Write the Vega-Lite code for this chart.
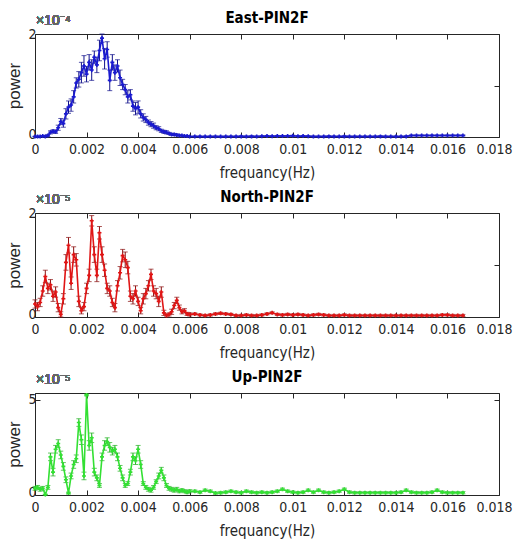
{
"$schema": "https://vega.github.io/schema/vega-lite/v6.json",
"background": "white",
"padding": {"left": 5, "top": 10, "right": 0, "bottom": 0},
"spacing": 8,
"datasets": {
"east": [
{"f":0,"v":0.01,"e":0.005},{"f":0.0001,"v":0.01,"e":0.005},{"f":0.0002,"v":0.01,"e":0.005},{"f":0.0003,"v":0.02,"e":0.01},{"f":0.0004,"v":0.01,"e":0.005},{"f":0.0005,"v":0.03,"e":0.02},{"f":0.0006,"v":0.09,"e":0.03},{"f":0.0007,"v":0.11,"e":0.03},{"f":0.0008,"v":0.10,"e":0.03},{"f":0.0009,"v":0.18,"e":0.05},{"f":0.001,"v":0.30,"e":0.06},{"f":0.0011,"v":0.26,"e":0.07},{"f":0.0012,"v":0.45,"e":0.1},{"f":0.0013,"v":0.58,"e":0.12},{"f":0.0014,"v":0.62,"e":0.12},{"f":0.0015,"v":0.78,"e":0.12},{"f":0.0016,"v":1.05,"e":0.1},{"f":0.0017,"v":1.12,"e":0.15},{"f":0.0018,"v":1.25,"e":0.2},{"f":0.0019,"v":1.38,"e":0.2},{"f":0.002,"v":1.22,"e":0.15},{"f":0.0021,"v":1.45,"e":0.15},{"f":0.0022,"v":1.30,"e":0.2},{"f":0.0023,"v":1.55,"e":0.12},{"f":0.0024,"v":1.40,"e":0.15},{"f":0.0025,"v":1.68,"e":0.2},{"f":0.0026,"v":1.92,"e":0.08},{"f":0.0027,"v":1.52,"e":0.2},{"f":0.0028,"v":1.70,"e":0.15},{"f":0.0029,"v":1.10,"e":0.2},{"f":0.003,"v":1.45,"e":0.15},{"f":0.0031,"v":1.25,"e":0.15},{"f":0.0032,"v":1.38,"e":0.12},{"f":0.0033,"v":1.15,"e":0.15},{"f":0.0034,"v":1.02,"e":0.1},{"f":0.0035,"v":0.92,"e":0.1},{"f":0.0036,"v":0.78,"e":0.12},{"f":0.0037,"v":0.82,"e":0.1},{"f":0.0038,"v":0.60,"e":0.1},{"f":0.0039,"v":0.55,"e":0.12},{"f":0.004,"v":0.58,"e":0.12},{"f":0.0041,"v":0.45,"e":0.08},{"f":0.0042,"v":0.38,"e":0.07},{"f":0.0043,"v":0.34,"e":0.06},{"f":0.0044,"v":0.28,"e":0.05},{"f":0.0045,"v":0.25,"e":0.05},{"f":0.0046,"v":0.22,"e":0.05},{"f":0.0047,"v":0.18,"e":0.04},{"f":0.0048,"v":0.16,"e":0.04},{"f":0.0049,"v":0.12,"e":0.03},{"f":0.005,"v":0.10,"e":0.03},{"f":0.0051,"v":0.09,"e":0.03},{"f":0.0052,"v":0.07,"e":0.02},{"f":0.0053,"v":0.05,"e":0.02},{"f":0.0054,"v":0.05,"e":0.02},{"f":0.0055,"v":0.04,"e":0.02},{"f":0.0056,"v":0.03,"e":0.01},{"f":0.0057,"v":0.03,"e":0.01},{"f":0.0058,"v":0.02,"e":0.01},{"f":0.0059,"v":0.02,"e":0.01},{"f":0.006,"v":0.01,"e":0.005},
{"f":0.0062,"v":0.01,"e":0.01},{"f":0.0064,"v":0.01,"e":0.01},{"f":0.0066,"v":0.008,"e":0.01},{"f":0.0068,"v":0.01,"e":0.01},{"f":0.007,"v":0.01,"e":0.01},{"f":0.0072,"v":0.008,"e":0.01},{"f":0.0074,"v":0.01,"e":0.01},{"f":0.0076,"v":0.01,"e":0.01},{"f":0.0078,"v":0.01,"e":0.01},{"f":0.008,"v":0.012,"e":0.01},{"f":0.0082,"v":0.01,"e":0.01},{"f":0.0084,"v":0.012,"e":0.01},{"f":0.0086,"v":0.01,"e":0.01},{"f":0.0088,"v":0.015,"e":0.01},{"f":0.009,"v":0.02,"e":0.01},{"f":0.0092,"v":0.015,"e":0.01},{"f":0.0094,"v":0.02,"e":0.01},{"f":0.0096,"v":0.018,"e":0.01},{"f":0.0098,"v":0.02,"e":0.01},{"f":0.01,"v":0.025,"e":0.01},{"f":0.0102,"v":0.015,"e":0.01},{"f":0.0104,"v":0.02,"e":0.01},{"f":0.0106,"v":0.015,"e":0.01},{"f":0.0108,"v":0.01,"e":0.01},{"f":0.011,"v":0.01,"e":0.01},{"f":0.0112,"v":0.01,"e":0.01},{"f":0.0114,"v":0.012,"e":0.01},{"f":0.0116,"v":0.01,"e":0.01},{"f":0.0118,"v":0.01,"e":0.01},{"f":0.012,"v":0.012,"e":0.01},{"f":0.0122,"v":0.01,"e":0.01},{"f":0.0124,"v":0.01,"e":0.01},{"f":0.0126,"v":0.01,"e":0.01},{"f":0.0128,"v":0.01,"e":0.01},{"f":0.013,"v":0.01,"e":0.01},{"f":0.0132,"v":0.01,"e":0.01},{"f":0.0134,"v":0.012,"e":0.01},{"f":0.0136,"v":0.01,"e":0.01},{"f":0.0138,"v":0.01,"e":0.01},{"f":0.014,"v":0.01,"e":0.01},{"f":0.0142,"v":0.01,"e":0.01},{"f":0.0144,"v":0.012,"e":0.01},{"f":0.0146,"v":0.03,"e":0.01},{"f":0.0148,"v":0.03,"e":0.01},{"f":0.015,"v":0.03,"e":0.01},{"f":0.0152,"v":0.03,"e":0.01},{"f":0.0154,"v":0.03,"e":0.01},{"f":0.0156,"v":0.03,"e":0.01},{"f":0.0158,"v":0.03,"e":0.01},{"f":0.016,"v":0.03,"e":0.01},{"f":0.0162,"v":0.03,"e":0.01},{"f":0.0164,"v":0.03,"e":0.01},{"f":0.0166,"v":0.03,"e":0.01}
],
"north": [
{"f":0,"v":0.25,"e":0.08},{"f":0.0001,"v":0.20,"e":0.08},{"f":0.0002,"v":0.28,"e":0.08},{"f":0.0003,"v":0.50,"e":0.1},{"f":0.0004,"v":0.78,"e":0.12},{"f":0.0005,"v":0.55,"e":0.1},{"f":0.0006,"v":0.62,"e":0.1},{"f":0.0007,"v":0.40,"e":0.1},{"f":0.0008,"v":0.48,"e":0.1},{"f":0.0009,"v":0.18,"e":0.08},{"f":0.001,"v":0.05,"e":0.05},{"f":0.0011,"v":0.35,"e":0.1},{"f":0.0012,"v":1.05,"e":0.15},{"f":0.0013,"v":1.38,"e":0.15},{"f":0.0014,"v":0.65,"e":0.12},{"f":0.0015,"v":1.20,"e":0.15},{"f":0.0016,"v":1.10,"e":0.12},{"f":0.0017,"v":0.30,"e":0.1},{"f":0.0018,"v":0.12,"e":0.06},{"f":0.0019,"v":0.20,"e":0.08},{"f":0.002,"v":0.55,"e":0.1},{"f":0.0021,"v":0.80,"e":0.12},{"f":0.0022,"v":1.85,"e":0.1},{"f":0.0023,"v":1.20,"e":0.15},{"f":0.0024,"v":0.80,"e":0.12},{"f":0.0025,"v":1.62,"e":0.12},{"f":0.0026,"v":1.20,"e":0.15},{"f":0.0027,"v":0.90,"e":0.12},{"f":0.0028,"v":0.55,"e":0.1},{"f":0.0029,"v":0.50,"e":0.1},{"f":0.003,"v":0.28,"e":0.08},{"f":0.0031,"v":0.18,"e":0.08},{"f":0.0032,"v":0.60,"e":0.1},{"f":0.0033,"v":0.85,"e":0.12},{"f":0.0034,"v":1.18,"e":0.12},{"f":0.0035,"v":1.10,"e":0.15},{"f":0.0036,"v":0.95,"e":0.12},{"f":0.0037,"v":0.40,"e":0.1},{"f":0.0038,"v":0.35,"e":0.1},{"f":0.0039,"v":0.50,"e":0.1},{"f":0.004,"v":0.30,"e":0.08},{"f":0.0041,"v":0.12,"e":0.06},{"f":0.0042,"v":0.35,"e":0.1},{"f":0.0043,"v":0.45,"e":0.1},{"f":0.0044,"v":0.60,"e":0.1},{"f":0.0045,"v":0.82,"e":0.1},{"f":0.0046,"v":0.50,"e":0.1},{"f":0.0047,"v":0.45,"e":0.1},{"f":0.0048,"v":0.30,"e":0.1},{"f":0.0049,"v":0.48,"e":0.1},{"f":0.005,"v":0.08,"e":0.05},{"f":0.0051,"v":0.03,"e":0.03},{"f":0.0052,"v":0.05,"e":0.03},{"f":0.0053,"v":0.10,"e":0.05},{"f":0.0054,"v":0.22,"e":0.06},{"f":0.0055,"v":0.32,"e":0.06},{"f":0.0056,"v":0.18,"e":0.05},{"f":0.0057,"v":0.10,"e":0.04},{"f":0.0058,"v":0.12,"e":0.04},{"f":0.0059,"v":0.06,"e":0.03},{"f":0.006,"v":0.05,"e":0.03},
{"f":0.0062,"v":0.06,"e":0.02},{"f":0.0064,"v":0.04,"e":0.02},{"f":0.0066,"v":0.03,"e":0.02},{"f":0.0068,"v":0.04,"e":0.02},{"f":0.007,"v":0.06,"e":0.02},{"f":0.0072,"v":0.07,"e":0.02},{"f":0.0074,"v":0.06,"e":0.02},{"f":0.0076,"v":0.05,"e":0.02},{"f":0.0078,"v":0.03,"e":0.02},{"f":0.008,"v":0.03,"e":0.02},{"f":0.0082,"v":0.04,"e":0.02},{"f":0.0084,"v":0.03,"e":0.02},{"f":0.0086,"v":0.03,"e":0.02},{"f":0.0088,"v":0.04,"e":0.02},{"f":0.009,"v":0.06,"e":0.02},{"f":0.0092,"v":0.08,"e":0.02},{"f":0.0094,"v":0.05,"e":0.02},{"f":0.0096,"v":0.04,"e":0.02},{"f":0.0098,"v":0.05,"e":0.02},{"f":0.01,"v":0.04,"e":0.02},{"f":0.0102,"v":0.05,"e":0.02},{"f":0.0104,"v":0.04,"e":0.02},{"f":0.0106,"v":0.03,"e":0.02},{"f":0.0108,"v":0.04,"e":0.02},{"f":0.011,"v":0.05,"e":0.02},{"f":0.0112,"v":0.04,"e":0.02},{"f":0.0114,"v":0.03,"e":0.02},{"f":0.0116,"v":0.03,"e":0.02},{"f":0.0118,"v":0.03,"e":0.02},{"f":0.012,"v":0.04,"e":0.02},{"f":0.0122,"v":0.03,"e":0.02},{"f":0.0124,"v":0.03,"e":0.02},{"f":0.0126,"v":0.03,"e":0.02},{"f":0.0128,"v":0.03,"e":0.02},{"f":0.013,"v":0.03,"e":0.02},{"f":0.0132,"v":0.03,"e":0.02},{"f":0.0134,"v":0.03,"e":0.02},{"f":0.0136,"v":0.03,"e":0.02},{"f":0.0138,"v":0.03,"e":0.02},{"f":0.014,"v":0.03,"e":0.02},{"f":0.0142,"v":0.03,"e":0.02},{"f":0.0144,"v":0.03,"e":0.02},{"f":0.0146,"v":0.03,"e":0.02},{"f":0.0148,"v":0.03,"e":0.02},{"f":0.015,"v":0.03,"e":0.02},{"f":0.0152,"v":0.03,"e":0.02},{"f":0.0154,"v":0.03,"e":0.02},{"f":0.0156,"v":0.03,"e":0.02},{"f":0.0158,"v":0.04,"e":0.02},{"f":0.016,"v":0.04,"e":0.02},{"f":0.0162,"v":0.03,"e":0.02},{"f":0.0164,"v":0.03,"e":0.02},{"f":0.0166,"v":0.03,"e":0.02}
],
"up": [
{"f":0,"v":0.35,"e":0.1},{"f":0.0001,"v":0.40,"e":0.1},{"f":0.0002,"v":0.30,"e":0.1},{"f":0.0003,"v":0.35,"e":0.1},{"f":0.0004,"v":0.02,"e":0.02},{"f":0.0005,"v":0.40,"e":0.1},{"f":0.0006,"v":2.0,"e":0.2},{"f":0.0007,"v":1.2,"e":0.2},{"f":0.0008,"v":2.4,"e":0.2},{"f":0.0009,"v":2.7,"e":0.2},{"f":0.001,"v":2.1,"e":0.2},{"f":0.0011,"v":1.5,"e":0.2},{"f":0.0012,"v":0.8,"e":0.15},{"f":0.0013,"v":0.1,"e":0.05},{"f":0.0014,"v":1.0,"e":0.15},{"f":0.0015,"v":1.6,"e":0.2},{"f":0.0016,"v":1.9,"e":0.2},{"f":0.0017,"v":3.8,"e":0.2},{"f":0.0018,"v":2.9,"e":0.25},{"f":0.0019,"v":1.0,"e":0.2},{"f":0.002,"v":5.25,"e":0.05},{"f":0.0021,"v":2.6,"e":0.25},{"f":0.0022,"v":3.0,"e":0.25},{"f":0.0023,"v":1.2,"e":0.2},{"f":0.0024,"v":0.9,"e":0.15},{"f":0.0025,"v":0.5,"e":0.1},{"f":0.0026,"v":2.0,"e":0.2},{"f":0.0027,"v":2.6,"e":0.25},{"f":0.0028,"v":2.8,"e":0.2},{"f":0.0029,"v":2.5,"e":0.25},{"f":0.003,"v":2.3,"e":0.2},{"f":0.0031,"v":2.4,"e":0.2},{"f":0.0032,"v":2.0,"e":0.2},{"f":0.0033,"v":1.4,"e":0.15},{"f":0.0034,"v":0.9,"e":0.15},{"f":0.0035,"v":0.5,"e":0.1},{"f":0.0036,"v":0.6,"e":0.1},{"f":0.0037,"v":1.2,"e":0.15},{"f":0.0038,"v":2.0,"e":0.2},{"f":0.0039,"v":1.8,"e":0.2},{"f":0.004,"v":2.4,"e":0.2},{"f":0.0041,"v":1.6,"e":0.2},{"f":0.0042,"v":0.6,"e":0.1},{"f":0.0043,"v":0.4,"e":0.1},{"f":0.0044,"v":0.3,"e":0.1},{"f":0.0045,"v":0.25,"e":0.1},{"f":0.0046,"v":0.4,"e":0.1},{"f":0.0047,"v":0.7,"e":0.1},{"f":0.0048,"v":1.0,"e":0.15},{"f":0.0049,"v":1.3,"e":0.15},{"f":0.005,"v":0.9,"e":0.15},{"f":0.0051,"v":0.5,"e":0.1},{"f":0.0052,"v":0.35,"e":0.1},{"f":0.0053,"v":0.3,"e":0.1},{"f":0.0054,"v":0.25,"e":0.1},{"f":0.0055,"v":0.3,"e":0.1},{"f":0.0056,"v":0.2,"e":0.08},{"f":0.0057,"v":0.25,"e":0.08},{"f":0.0058,"v":0.2,"e":0.08},{"f":0.0059,"v":0.15,"e":0.08},{"f":0.006,"v":0.2,"e":0.08},
{"f":0.0062,"v":0.2,"e":0.06},{"f":0.0064,"v":0.15,"e":0.06},{"f":0.0066,"v":0.25,"e":0.06},{"f":0.0068,"v":0.2,"e":0.06},{"f":0.007,"v":0.1,"e":0.06},{"f":0.0072,"v":0.12,"e":0.06},{"f":0.0074,"v":0.15,"e":0.06},{"f":0.0076,"v":0.2,"e":0.06},{"f":0.0078,"v":0.15,"e":0.06},{"f":0.008,"v":0.12,"e":0.06},{"f":0.0082,"v":0.2,"e":0.06},{"f":0.0084,"v":0.15,"e":0.06},{"f":0.0086,"v":0.12,"e":0.06},{"f":0.0088,"v":0.15,"e":0.06},{"f":0.009,"v":0.12,"e":0.06},{"f":0.0092,"v":0.15,"e":0.06},{"f":0.0094,"v":0.2,"e":0.06},{"f":0.0096,"v":0.3,"e":0.06},{"f":0.0098,"v":0.2,"e":0.06},{"f":0.01,"v":0.15,"e":0.06},{"f":0.0102,"v":0.12,"e":0.06},{"f":0.0104,"v":0.15,"e":0.06},{"f":0.0106,"v":0.25,"e":0.06},{"f":0.0108,"v":0.15,"e":0.06},{"f":0.011,"v":0.25,"e":0.06},{"f":0.0112,"v":0.15,"e":0.06},{"f":0.0114,"v":0.12,"e":0.06},{"f":0.0116,"v":0.15,"e":0.06},{"f":0.0118,"v":0.2,"e":0.06},{"f":0.012,"v":0.3,"e":0.06},{"f":0.0122,"v":0.15,"e":0.06},{"f":0.0124,"v":0.12,"e":0.06},{"f":0.0126,"v":0.12,"e":0.06},{"f":0.0128,"v":0.12,"e":0.06},{"f":0.013,"v":0.12,"e":0.06},{"f":0.0132,"v":0.12,"e":0.06},{"f":0.0134,"v":0.12,"e":0.06},{"f":0.0136,"v":0.12,"e":0.06},{"f":0.0138,"v":0.12,"e":0.06},{"f":0.014,"v":0.12,"e":0.06},{"f":0.0142,"v":0.15,"e":0.06},{"f":0.0144,"v":0.25,"e":0.06},{"f":0.0146,"v":0.15,"e":0.06},{"f":0.0148,"v":0.12,"e":0.06},{"f":0.015,"v":0.12,"e":0.06},{"f":0.0152,"v":0.12,"e":0.06},{"f":0.0154,"v":0.15,"e":0.06},{"f":0.0156,"v":0.25,"e":0.06},{"f":0.0158,"v":0.15,"e":0.06},{"f":0.016,"v":0.12,"e":0.06},{"f":0.0162,"v":0.12,"e":0.06},{"f":0.0164,"v":0.12,"e":0.06},{"f":0.0166,"v":0.12,"e":0.06}
]
},
"vconcat": [
{
"width": 464, "height": 103,
"title": {"text": "East-PIN2F"},
"data": {"name": "east"},
"layer": [
{"mark": {"type": "errorbar", "color": "#10108a", "ticks": {"size": 5}},
 "encoding": {
  "x": {"field": "f", "type": "quantitative", "scale": {"domain": [0, 0.018], "nice": false}, "axis": {"orient": "bottom", "values": [0,0.002,0.004,0.006,0.008,0.01,0.012,0.014,0.016,0.018], "format": "~g", "title": "frequancy(Hz)", "labelOffset": {"condition": {"test": "datum.value > 0.0175", "value": -5}, "value": 0}}},
  "y": {"field": "v", "type": "quantitative", "scale": {"domain": [0, 2], "nice": false}, "axis": {"orient": "left", "values": [0,1,2], "format": "d", "title": "power", "labelOffset": {"condition": {"test": "datum.value == 0", "value": -3}, "value": 0}}},
  "yError": {"field": "e"}}},
{"mark": {"type": "line", "color": "#1a1ad0", "strokeWidth": 1.6, "point": {"shape": "cross", "size": 16, "color": "#1a1ad0"}},
 "encoding": {"x": {"field": "f", "type": "quantitative", "axis": null}, "y": {"field": "v", "type": "quantitative", "axis": null}}},
{"mark": {"type": "point", "opacity": 0},
 "encoding": {"x": {"field": "f", "type": "quantitative", "axis": {"orient": "top", "values": [0,0.002,0.004,0.006,0.008,0.01,0.012,0.014,0.016,0.018], "labels": false, "title": null}}, "y": {"field": "v", "type": "quantitative", "axis": {"orient": "right", "values": [0,1,2], "labels": false, "title": null}}}},
{"mark": {"type": "text", "align": "left", "baseline": "alphabetic", "dx": 1, "dy": -9, "fontSize": 14, "color": "#666666"},
 "encoding": {"x": {"datum": 0, "type": "quantitative", "axis": null}, "y": {"datum": 2, "type": "quantitative", "axis": null}, "text": {"value": "×10⁻⁴"}}}
],
"resolve": {"axis": {"x": "independent", "y": "independent"}}
},
{
"width": 464, "height": 104,
"title": {"text": "North-PIN2F"},
"data": {"name": "north"},
"layer": [
{"mark": {"type": "errorbar", "color": "#8a1010", "ticks": {"size": 5}},
 "encoding": {
  "x": {"field": "f", "type": "quantitative", "scale": {"domain": [0, 0.018], "nice": false}, "axis": {"orient": "bottom", "values": [0,0.002,0.004,0.006,0.008,0.01,0.012,0.014,0.016,0.018], "format": "~g", "title": "frequancy(Hz)", "labelOffset": {"condition": {"test": "datum.value > 0.0175", "value": -5}, "value": 0}}},
  "y": {"field": "v", "type": "quantitative", "scale": {"domain": [0, 2], "nice": false}, "axis": {"orient": "left", "values": [0,1,2], "format": "d", "title": "power", "labelOffset": {"condition": {"test": "datum.value == 0", "value": -3}, "value": 0}}},
  "yError": {"field": "e"}}},
{"mark": {"type": "line", "color": "#e01515", "strokeWidth": 1.6, "point": {"shape": "cross", "size": 16, "color": "#e01515"}},
 "encoding": {"x": {"field": "f", "type": "quantitative", "axis": null}, "y": {"field": "v", "type": "quantitative", "axis": null}}},
{"mark": {"type": "point", "opacity": 0},
 "encoding": {"x": {"field": "f", "type": "quantitative", "axis": {"orient": "top", "values": [0,0.002,0.004,0.006,0.008,0.01,0.012,0.014,0.016,0.018], "labels": false, "title": null}}, "y": {"field": "v", "type": "quantitative", "axis": {"orient": "right", "values": [0,1,2], "labels": false, "title": null}}}},
{"mark": {"type": "text", "align": "left", "baseline": "alphabetic", "dx": 1, "dy": -9, "fontSize": 14, "color": "#666666"},
 "encoding": {"x": {"datum": 0, "type": "quantitative", "axis": null}, "y": {"datum": 2, "type": "quantitative", "axis": null}, "text": {"value": "×10⁻⁵"}}}
],
"resolve": {"axis": {"x": "independent", "y": "independent"}}
},
{
"width": 464, "height": 102,
"title": {"text": "Up-PIN2F"},
"data": {"name": "up"},
"layer": [
{"mark": {"type": "errorbar", "color": "#20b020", "ticks": {"size": 5}},
 "encoding": {
  "x": {"field": "f", "type": "quantitative", "scale": {"domain": [0, 0.018], "nice": false}, "axis": {"orient": "bottom", "values": [0,0.002,0.004,0.006,0.008,0.01,0.012,0.014,0.016,0.018], "format": "~g", "title": "frequancy(Hz)", "labelOffset": {"condition": {"test": "datum.value > 0.0175", "value": -5}, "value": 0}}},
  "y": {"field": "v", "type": "quantitative", "scale": {"domain": [0, 5.35], "nice": false}, "axis": {"orient": "left", "values": [0,5], "format": "d", "title": "power", "labelOffset": {"condition": {"test": "datum.value == 0", "value": -3}, "value": 0}}},
  "yError": {"field": "e"}}},
{"mark": {"type": "line", "color": "#33e033", "strokeWidth": 1.6, "point": {"shape": "cross", "size": 16, "color": "#33e033"}},
 "encoding": {"x": {"field": "f", "type": "quantitative", "axis": null}, "y": {"field": "v", "type": "quantitative", "axis": null}}},
{"mark": {"type": "point", "opacity": 0},
 "encoding": {"x": {"field": "f", "type": "quantitative", "axis": {"orient": "top", "values": [0,0.002,0.004,0.006,0.008,0.01,0.012,0.014,0.016,0.018], "labels": false, "title": null}}, "y": {"field": "v", "type": "quantitative", "axis": {"orient": "right", "values": [0,5], "labels": false, "title": null}}}},
{"mark": {"type": "text", "align": "left", "baseline": "alphabetic", "dx": 1, "dy": -9, "fontSize": 14, "color": "#666666"},
 "encoding": {"x": {"datum": 0, "type": "quantitative", "axis": null}, "y": {"datum": 5.35, "type": "quantitative", "axis": null}, "text": {"value": "×10⁻⁵"}}}
],
"resolve": {"axis": {"x": "independent", "y": "independent"}}
}
],
"config": {
 "font": "Liberation Sans",
 "view": {"stroke": "#262626", "strokeWidth": 1},
 "axis": {"grid": false, "domain": false, "ticks": true, "tickColor": "#262626", "tickSize": -5, "labelColor": "#262626", "labelFont": "Liberation Sans Narrow, DejaVu Sans Condensed, Liberation Sans, sans-serif", "labelFontSize": 14, "labelPadding": 10, "labelOverlap": false, "labelFlush": false, "titleFont": "Liberation Sans Narrow, DejaVu Sans Condensed, Liberation Sans, sans-serif", "titleFontSize": 15, "titleFontWeight": "normal", "titleColor": "#262626"},
 "axisLeft": {"titleFont": "Liberation Sans, sans-serif", "titleFontSize": 17, "titlePadding": 4, "labelPadding": 4, "labelFontSize": 14},
 "axisBottom": {"titlePadding": 9},
 "title": {"font": "Liberation Sans Narrow, DejaVu Sans Condensed, Liberation Sans, sans-serif", "fontSize": 15, "fontWeight": "bold", "color": "#000000", "offset": -12}
}
}
